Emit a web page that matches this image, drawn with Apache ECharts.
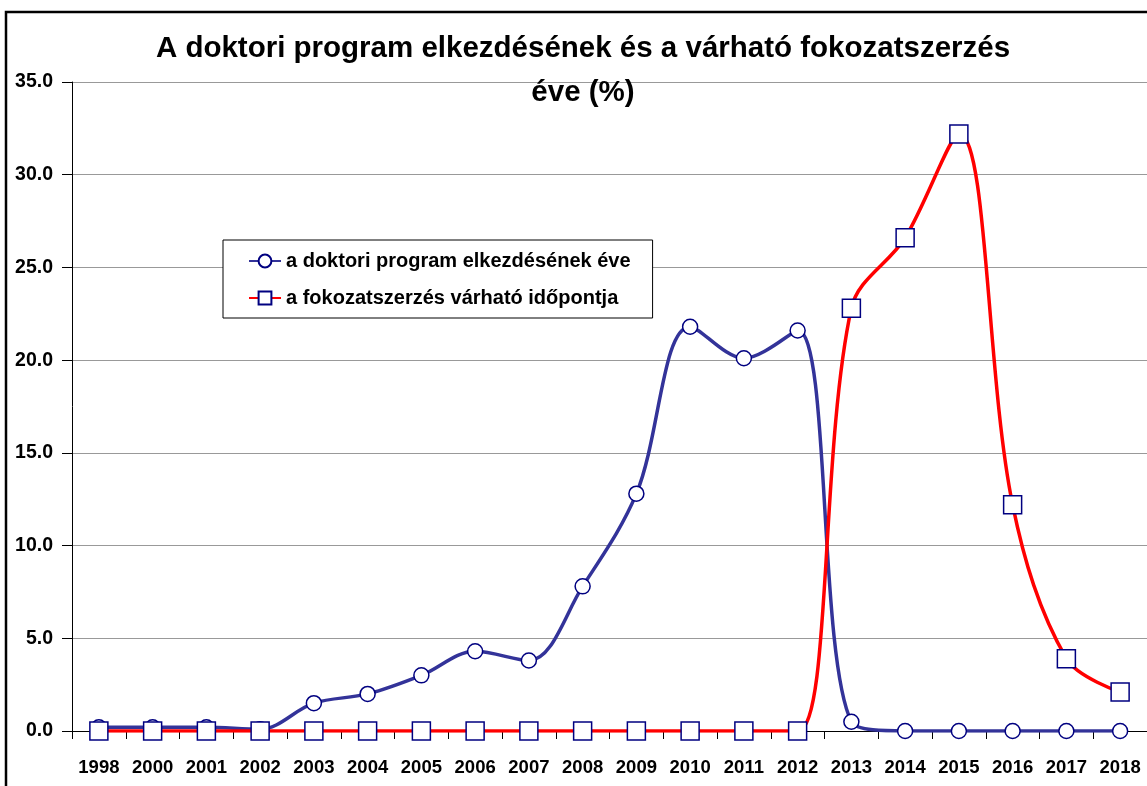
<html>
<head>
    <meta charset="utf-8">
    <title>Doktori program</title>
    <script src="https://cdn.jsdelivr.net/npm/echarts@6/dist/echarts.min.js"></script>
</head>
<body style="margin:0;">
<div id="chart" style="width: 1147px; height: 786px;"></div>
<script type="text/javascript">
    var years = ['1998', '2000', '2001', '2002', '2003', '2004', '2005', '2006', '2007', '2008',
        '2009', '2010', '2011', '2012', '2013', '2014', '2015', '2016', '2017', '2018'];
    var kezdes = [0.2, 0.2, 0.2, 0.1, 1.5, 2.0, 3.0, 4.3, 3.8, 7.8,
        12.8, 21.8, 20.1, 21.6, 0.5, 0.0, 0.0, 0.0, 0.0, 0.0];
    var fokozat = [0.0, 0.0, 0.0, 0.0, 0.0, 0.0, 0.0, 0.0, 0.0, 0.0,
        0.0, 0.0, 0.0, 0.0, 22.8, 26.6, 32.2, 12.2, 3.9, 2.1];
    var seriesNames = ['a doktori program elkezdésének éve', 'a fokozatszerzés várható időpontja'];

    var font = '"Liberation Sans", Arial, sans-serif';
    var myChart = echarts.init(document.getElementById('chart'));

    var option = {
        backgroundColor: '#fff',
        animation: false,
        title: {
            text: 'A doktori program elkezdésének és a várható fokozatszerzés\néve (%)',
            left: 578,
            textAlign: 'center',
            top: 22,
            textStyle: {
                fontFamily: font,
                fontWeight: 'bold',
                fontSize: 29.5,
                lineHeight: 44,
                color: '#000'
            }
        },
        graphic: [{
            type: 'rect',
            shape: { x: 6, y: 12, width: 1300, height: 900 },
            style: { fill: 'none', stroke: '#000', lineWidth: 2.5 },
            z: 100
        }],
        legend: {
            orient: 'vertical',
            left: 223,
            top: 240,
            padding: [11, 22, 10, 25],
            itemGap: 17,
            itemWidth: 32,
            itemHeight: 16,
            backgroundColor: '#fff',
            borderColor: '#000',
            borderWidth: 1,
            textStyle: { fontFamily: font, fontWeight: 'bold', fontSize: 20, color: '#000' },
            data: seriesNames
        },
        grid: {
            left: 72,
            right: -7,
            top: 82,
            bottom: 55,
            containLabel: false
        },
        xAxis: {
            type: 'category',
            data: years,
            boundaryGap: true,
            axisLine: { lineStyle: { color: '#000', width: 1 } },
            axisTick: { show: true, length: 8, lineStyle: { color: '#000' } },
            axisLabel: {
                interval: 0,
                margin: 27,
                fontFamily: font,
                fontWeight: 'bold',
                fontSize: 18.5,
                color: '#000'
            }
        },
        yAxis: {
            type: 'value',
            min: 0,
            max: 35,
            interval: 5,
            axisLine: { show: true, lineStyle: { color: '#000', width: 1 } },
            axisTick: { show: true, length: 10, lineStyle: { color: '#000' } },
            axisLabel: {
                margin: 19,
                fontFamily: font,
                fontWeight: 'bold',
                fontSize: 19.5,
                color: '#000',
                formatter: function (v) { return v.toFixed(1); }
            },
            splitLine: { lineStyle: { color: '#999', width: 1.2 } }
        },
        series: [
            {
                name: seriesNames[0],
                type: 'line',
                data: kezdes,
                smooth: 0.35,
                symbol: 'circle',
                symbolSize: 15,
                lineStyle: { color: '#333399', width: 3.5 },
                itemStyle: { color: '#fff', borderColor: '#000080', borderWidth: 1.5 },
                z: 3
            },
            {
                name: seriesNames[1],
                type: 'line',
                data: fokozat,
                smooth: 0.35,
                symbol: 'rect',
                symbolSize: 18,
                lineStyle: { color: '#ff0000', width: 3.5 },
                itemStyle: { color: '#fff', borderColor: '#000080', borderWidth: 1.5 },
                z: 4
            }
        ]
    };

    myChart.setOption(option);
</script>
</body>
</html>
